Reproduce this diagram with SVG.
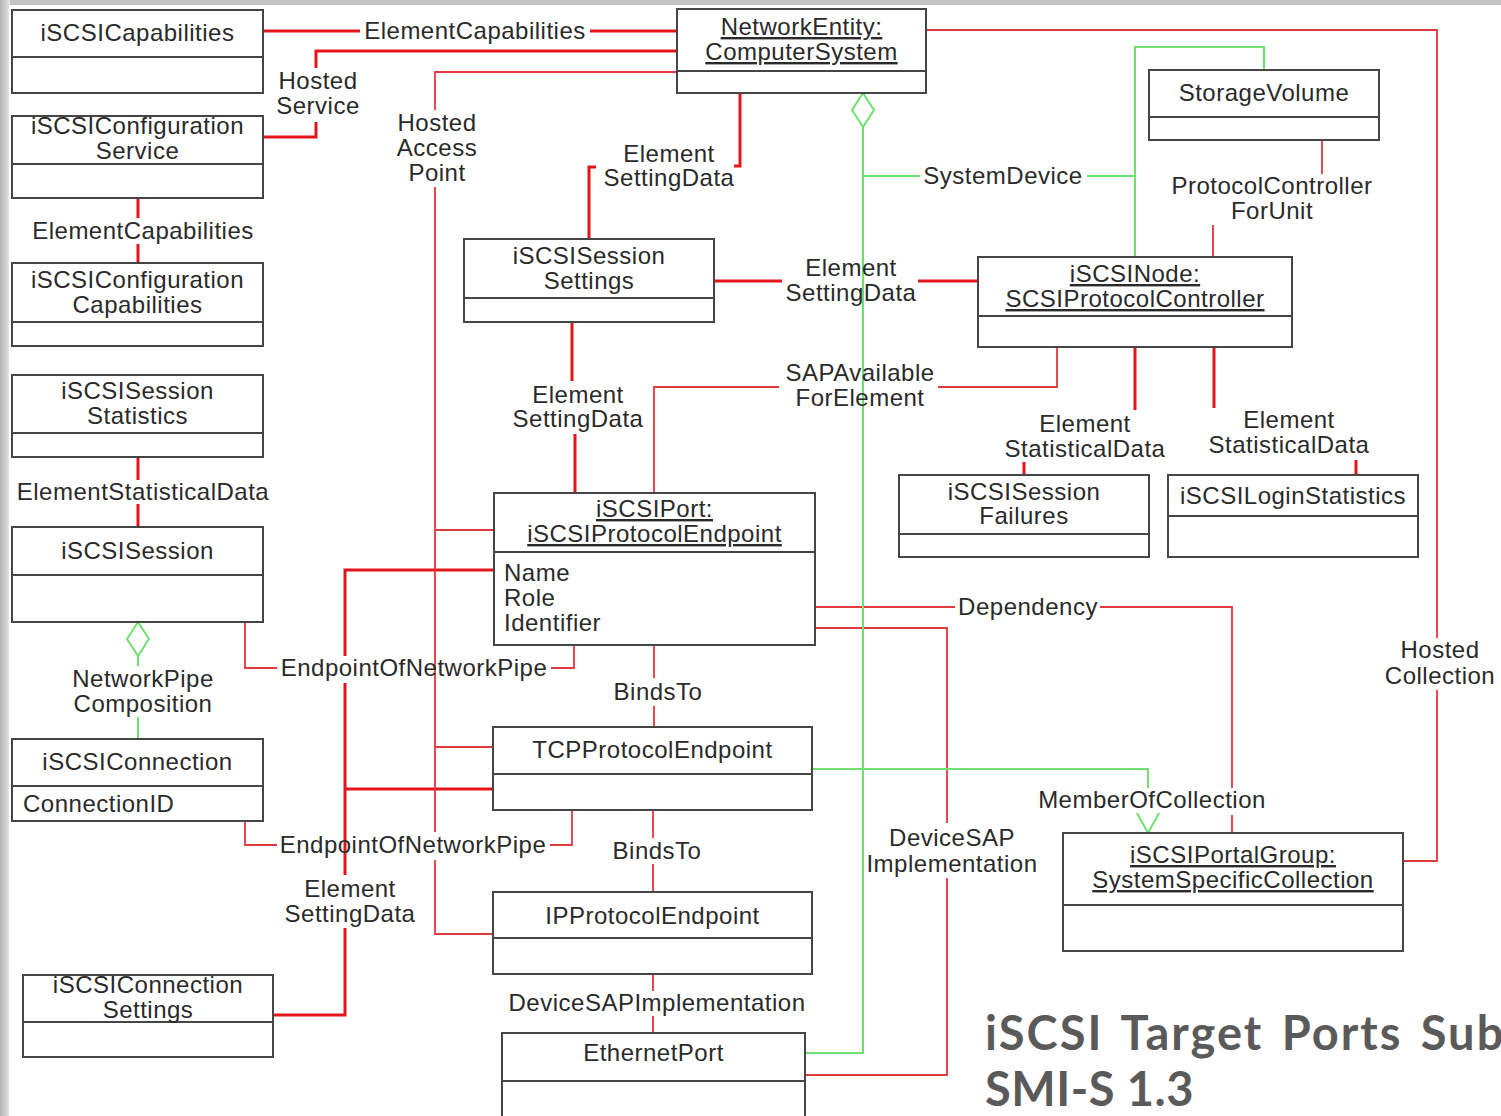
<svg xmlns="http://www.w3.org/2000/svg" width="1501" height="1116" viewBox="0 0 1501 1116">
<defs>
<linearGradient id="edge" x1="0" y1="0" x2="1" y2="0">
<stop offset="0" stop-color="#b4b4b4"/><stop offset="1" stop-color="#e6e6e6"/>
</linearGradient>
</defs>
<style>
.box{fill:#fff;stroke:#454545;stroke-width:2}
.div{stroke:#454545;stroke-width:2}
.t{font-family:"Liberation Sans",Arial,sans-serif;font-size:24px;letter-spacing:0.5px;fill:#2a2a2a}
.c{text-anchor:middle}
.u{text-decoration:underline}
.rt{fill:none;stroke:#e3141c;stroke-width:3}
.rn{fill:none;stroke:#e5383e;stroke-width:1.8}
.g{fill:none;stroke:#6ee06e;stroke-width:2}
.gd{fill:#fff;stroke:#6ee06e;stroke-width:2}
.title{font-family:Lato,"Open Sans",sans-serif;font-weight:700;font-size:47px;fill:#5a5a5a}
</style>
<rect width="1501" height="1116" fill="#c4c4c4"/>
<rect x="0" y="0" width="10" height="1116" fill="url(#edge)"/>
<rect x="9" y="5" width="1492" height="1111" fill="#fff"/>

<g id="connectors">
<!-- thick red -->
<path class="rt" d="M263,31 H360 M590,31 H677"/>
<path class="rt" d="M677,51 H316 V68 M316,122 V137 H263"/>
<path class="rt" d="M740,93 V166 H734 M596,167 H589 V239"/>
<path class="rt" d="M138,198 V218 M138,244 V263"/>
<path class="rt" d="M714,281 H782 M918,281 H978"/>
<path class="rt" d="M572,322 V381 M575,434 V493"/>
<path class="rt" d="M1135,347 V410 M1024,462 V475"/>
<path class="rt" d="M1214,347 V408 M1356,460 V475"/>
<path class="rt" d="M138,457 V480 M138,504 V527"/>
<path class="rt" d="M494,570 H345 V656 M345,683 V875 M345,928 V1015 H273 M345,789 H493"/>
<!-- thin red -->
<path class="rn" d="M677,72 H435 V110 M435,187 V832 M435,860 V934 H493 M435,530 H494 M435,747 H493"/>
<path class="rn" d="M654,493 V387 H779 M938,387 H1057 V347"/>
<path class="rn" d="M1322,140 V174 M1213,225 V257"/>
<path class="rn" d="M926,30 H1437 V638 M1437,690 V861 H1403"/>
<path class="rn" d="M815,607 H955 M1100,607 H1232 V788 M1232,815 V833"/>
<path class="rn" d="M815,628 H947 V823 M947,878 V1075 H805"/>
<path class="rn" d="M654,645 V678 M654,706 V727"/>
<path class="rn" d="M653,810 V838 M653,864 V892"/>
<path class="rn" d="M653,974 V991 M653,1016 V1033"/>
<path class="rn" d="M245,622 V668 H277 M551,668 H574 V645"/>
<path class="rn" d="M245,821 V845 H277 M550,845 H572 V810"/>
<!-- green -->
<path class="g" d="M863,127 V1053 H805 M863,176 H920 M1087,176 H1135 M1135,257 V47 H1264 V70"/>
<path class="gd" d="M863,93 L874,110 L863,127 L852,110 Z"/>
<path class="g" d="M812,769 H1148 V788 M1137,813 L1148,833 L1159,813"/>
<path class="g" d="M138,656 V666 M138,717 V739"/>
<path class="gd" d="M138,622 L149,639 L138,656 L127,639 Z"/>
<!-- connector labels -->
<text class="t c" x="475" y="39">ElementCapabilities</text>
<text class="t c" x="318" y="89">Hosted</text>
<text class="t c" x="318" y="114">Service</text>
<text class="t c" x="437" y="131">Hosted</text>
<text class="t c" x="437" y="156">Access</text>
<text class="t c" x="437" y="181">Point</text>
<text class="t c" x="669" y="162">Element</text>
<text class="t c" x="669" y="186">SettingData</text>
<text class="t c" x="143" y="239">ElementCapabilities</text>
<text class="t c" x="1003" y="184">SystemDevice</text>
<text class="t c" x="1272" y="194">ProtocolController</text>
<text class="t c" x="1272" y="219">ForUnit</text>
<text class="t c" x="851" y="276">Element</text>
<text class="t c" x="851" y="301">SettingData</text>
<text class="t c" x="860" y="381">SAPAvailable</text>
<text class="t c" x="860" y="406">ForElement</text>
<text class="t c" x="578" y="403">Element</text>
<text class="t c" x="578" y="427">SettingData</text>
<text class="t c" x="1085" y="432">Element</text>
<text class="t c" x="1085" y="457">StatisticalData</text>
<text class="t c" x="1289" y="428">Element</text>
<text class="t c" x="1289" y="453">StatisticalData</text>
<text class="t c" x="143" y="500">ElementStatisticalData</text>
<text class="t c" x="143" y="687">NetworkPipe</text>
<text class="t c" x="143" y="712">Composition</text>
<text class="t c" x="414" y="676">EndpointOfNetworkPipe</text>
<text class="t c" x="658" y="700">BindsTo</text>
<text class="t c" x="1028" y="615">Dependency</text>
<text class="t c" x="1440" y="658">Hosted</text>
<text class="t c" x="1440" y="684">Collection</text>
<text class="t c" x="1152" y="808">MemberOfCollection</text>
<text class="t c" x="413" y="853">EndpointOfNetworkPipe</text>
<text class="t c" x="657" y="859">BindsTo</text>
<text class="t c" x="952" y="846">DeviceSAP</text>
<text class="t c" x="952" y="872">Implementation</text>
<text class="t c" x="350" y="897">Element</text>
<text class="t c" x="350" y="922">SettingData</text>
<text class="t c" x="657" y="1011">DeviceSAPImplementation</text>
</g>

<g id="iSCSICapabilities"><rect class="box" x="12" y="10" width="251" height="83"/><line class="div" x1="12" y1="57" x2="263" y2="57"/><text class="t c" x="137.5" y="41">iSCSICapabilities</text></g>
<g id="iSCSIConfigurationService"><rect class="box" x="12" y="116" width="251" height="82"/><line class="div" x1="12" y1="164" x2="263" y2="164"/><text class="t c" x="137.5" y="134">iSCSIConfiguration</text><text class="t c" x="137.5" y="159">Service</text></g>
<g id="iSCSIConfigurationCapabilities"><rect class="box" x="12" y="263" width="251" height="83"/><line class="div" x1="12" y1="322" x2="263" y2="322"/><text class="t c" x="137.5" y="288">iSCSIConfiguration</text><text class="t c" x="137.5" y="313">Capabilities</text></g>
<g id="iSCSISessionStatistics"><rect class="box" x="12" y="375" width="251" height="82"/><line class="div" x1="12" y1="433" x2="263" y2="433"/><text class="t c" x="137.5" y="399">iSCSISession</text><text class="t c" x="137.5" y="424">Statistics</text></g>
<g id="iSCSISession"><rect class="box" x="12" y="527" width="251" height="95"/><line class="div" x1="12" y1="575" x2="263" y2="575"/><text class="t c" x="137.5" y="559">iSCSISession</text></g>
<g id="iSCSIConnection"><rect class="box" x="12" y="739" width="251" height="82"/><line class="div" x1="12" y1="786" x2="263" y2="786"/><text class="t c" x="137.5" y="770">iSCSIConnection</text><text class="t" x="23" y="812">ConnectionID</text></g>
<g id="iSCSIConnectionSettings"><rect class="box" x="23" y="975" width="250" height="82"/><line class="div" x1="23" y1="1022" x2="273" y2="1022"/><text class="t c" x="148" y="993">iSCSIConnection</text><text class="t c" x="148" y="1018">Settings</text></g>
<g id="NetworkEntity"><rect class="box" x="677" y="9" width="249" height="84"/><line class="div" x1="677" y1="71" x2="926" y2="71"/><text class="t c u" x="801.5" y="35">NetworkEntity:</text><text class="t c u" x="801.5" y="60">ComputerSystem</text></g>
<g id="StorageVolume"><rect class="box" x="1149" y="70" width="230" height="70"/><line class="div" x1="1149" y1="117" x2="1379" y2="117"/><text class="t c" x="1264" y="101">StorageVolume</text></g>
<g id="iSCSISessionSettings"><rect class="box" x="464" y="239" width="250" height="83"/><line class="div" x1="464" y1="298" x2="714" y2="298"/><text class="t c" x="589" y="264">iSCSISession</text><text class="t c" x="589" y="289">Settings</text></g>
<g id="iSCSINode"><rect class="box" x="978" y="257" width="314" height="90"/><line class="div" x1="978" y1="316" x2="1292" y2="316"/><text class="t c u" x="1135" y="282">iSCSINode:</text><text class="t c u" x="1135" y="307">SCSIProtocolController</text></g>
<g id="iSCSISessionFailures"><rect class="box" x="899" y="475" width="250" height="82"/><line class="div" x1="899" y1="534" x2="1149" y2="534"/><text class="t c" x="1024" y="500">iSCSISession</text><text class="t c" x="1024" y="524">Failures</text></g>
<g id="iSCSILoginStatistics"><rect class="box" x="1168" y="475" width="250" height="82"/><line class="div" x1="1168" y1="516" x2="1418" y2="516"/><text class="t c" x="1293" y="504">iSCSILoginStatistics</text></g>
<g id="iSCSIPort"><rect class="box" x="494" y="493" width="321" height="152"/><line class="div" x1="494" y1="552" x2="815" y2="552"/><text class="t c u" x="654.5" y="517">iSCSIPort:</text><text class="t c u" x="654.5" y="542">iSCSIProtocolEndpoint</text><text class="t" x="504" y="581">Name</text><text class="t" x="504" y="606">Role</text><text class="t" x="504" y="631">Identifier</text></g>
<g id="TCPProtocolEndpoint"><rect class="box" x="493" y="727" width="319" height="83"/><line class="div" x1="493" y1="774" x2="812" y2="774"/><text class="t c" x="652.5" y="758">TCPProtocolEndpoint</text></g>
<g id="IPProtocolEndpoint"><rect class="box" x="493" y="892" width="319" height="82"/><line class="div" x1="493" y1="938" x2="812" y2="938"/><text class="t c" x="652.5" y="924">IPProtocolEndpoint</text></g>
<g id="EthernetPort"><rect class="box" x="502" y="1033" width="303" height="90"/><line class="div" x1="502" y1="1081" x2="805" y2="1081"/><text class="t c" x="653.5" y="1061">EthernetPort</text></g>
<g id="iSCSIPortalGroup"><rect class="box" x="1063" y="833" width="340" height="118"/><line class="div" x1="1063" y1="905" x2="1403" y2="905"/><text class="t c u" x="1233" y="863">iSCSIPortalGroup:</text><text class="t c u" x="1233" y="888">SystemSpecificCollection</text></g>

<g id="title">
<text class="title" x="985" y="1050" letter-spacing="2" word-spacing="5">iSCSI Target Ports Sub</text>
<text class="title" x="985" y="1106" letter-spacing="0.5">SMI-S 1.3</text>
</g>
</svg>
